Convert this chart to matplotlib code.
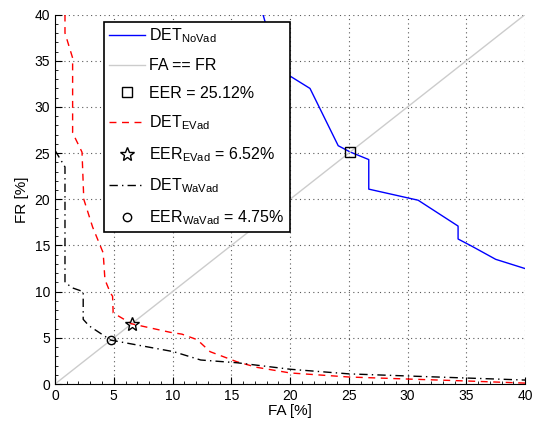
import numpy as np
import matplotlib
matplotlib.use('Agg')
import matplotlib.pyplot as plt
from matplotlib.ticker import MultipleLocator

plt.rcParams['font.family'] = ['Liberation Sans', 'DejaVu Sans']
plt.rcParams['mathtext.fontset'] = 'custom'
plt.rcParams['mathtext.rm'] = 'Liberation Sans'

# DET curve without VAD
fa_novad = [17.7, 18.7, 19.8, 21.7, 24.1, 25.12, 26.7, 26.7, 30.9, 34.3, 34.3, 35.5, 37.5, 40.0]
fr_novad = [40.0, 35.6, 33.5, 32.0, 25.8, 25.12, 24.3, 21.1, 19.9, 17.1, 15.7, 14.9, 13.5, 12.5]

# DET curve with energy VAD
fa_evad = [0.85, 0.85, 1.5, 1.5, 2.3, 2.45, 3.2, 4.1, 4.25, 4.7, 4.9, 4.95, 6.52, 9.8, 10.8,
           12.1, 13.2, 15.5, 17.2, 20.0, 25.0, 30.0, 35.0, 40.0]
fr_evad = [40.0, 38.0, 35.3, 27.2, 25.1, 20.0, 17.0, 14.2, 11.3, 9.9, 9.5, 7.7, 6.52, 5.6, 5.4,
           4.8, 3.5, 2.4, 1.8, 1.2, 0.76, 0.54, 0.33, 0.1]

# DET curve with WaVAD
fa_wavad = [0.0, 0.85, 0.85, 1.5, 2.4, 2.4, 2.9, 4.75, 10.1, 12.4, 15.5, 20.0, 25.0, 30.0, 35.0, 40.0]
fr_wavad = [25.3, 23.5, 11.0, 10.4, 10.0, 7.0, 6.3, 4.75, 3.5, 2.6, 2.3, 1.6, 1.1, 0.87, 0.65, 0.43]

eer_novad = 25.12
eer_evad = 6.52
eer_wavad = 4.75
diag = [0, 40]

fig = plt.figure(figsize=(5.36, 4.22), dpi=100)
ax = fig.add_axes([0.1026, 0.090, 0.877, 0.8755])

ax.plot(fa_novad, fr_novad, '-', color='#0000ff', linewidth=1, label=r'DET$_{\mathregular{NoVad}}$')
ax.plot(diag, diag, '-', color='0.8', linewidth=1, label='FA == FR')
ax.plot(eer_novad, eer_novad, 's', mfc='none', mec='k', markersize=7, mew=1,
        label='EER = %.2f%%' % eer_novad)
ax.plot(fa_evad, fr_evad, '--', color='#ff0000', linewidth=1, dashes=(5, 4),
        label=r'DET$_{\mathregular{EVad}}$')
ax.plot(eer_evad, eer_evad, '*', mfc='none', mec='k', markersize=10, mew=1,
        label=r'EER$_{\mathregular{EVad}}$ = %.2f%%' % eer_evad)
ax.plot(fa_wavad, fr_wavad, '-.', color='k', linewidth=1, dashes=(6, 3, 1, 3),
        label=r'DET$_{\mathregular{WaVad}}$')
ax.plot(eer_wavad, eer_wavad, 'o', mfc='none', mec='k', markersize=6, mew=1,
        label=r'EER$_{\mathregular{WaVad}}$ = %.2f%%' % eer_wavad)

ax.set_xlim(0, 40)
ax.set_ylim(0, 40)
ax.xaxis.set_major_locator(MultipleLocator(5))
ax.yaxis.set_major_locator(MultipleLocator(5))
ax.xaxis.set_minor_locator(MultipleLocator(1))
ax.yaxis.set_minor_locator(MultipleLocator(1))
ax.tick_params(which='both', direction='in', labelsize=10, top=False, right=False)
ax.tick_params(which='major', length=5)
ax.tick_params(which='minor', length=2.5)
ax.grid(True, which='major', linestyle=(0, (1, 3)), color='0.35', linewidth=0.8)
ax.spines['top'].set_visible(False)
ax.spines['right'].set_visible(False)

ax.set_xlabel('FA [%]', fontsize=11, labelpad=1)
ax.set_ylabel('FR [%]', fontsize=11, labelpad=4)

leg = ax.legend(loc='upper left', bbox_to_anchor=(0.104, 0.98), fontsize=11.5,
                fancybox=False, framealpha=1, edgecolor='k', handlelength=2.3,
                handletextpad=0.25, labelspacing=0.8, borderpad=0.3, borderaxespad=0)
leg.get_frame().set_linewidth(1.2)

fig.savefig('out.png', dpi=100)
